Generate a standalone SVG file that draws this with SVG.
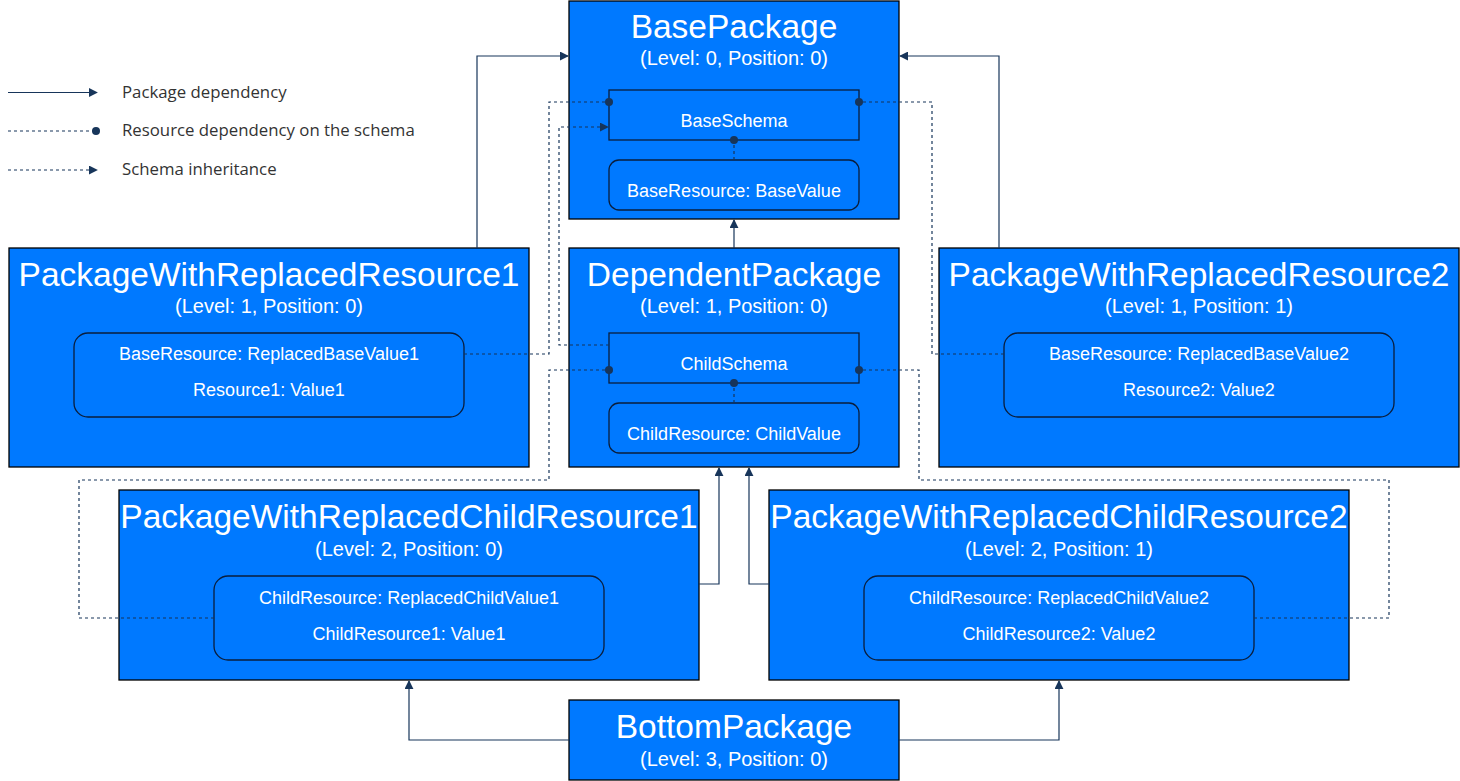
<svg xmlns="http://www.w3.org/2000/svg" width="1460" height="781" viewBox="0 0 1460 781">
<style>
.pkg{fill:#0079FF;stroke:#000;stroke-width:1.3}
.box{fill:none;stroke:#0A1E3C;stroke-width:1.3}
.t{font-family:"Liberation Sans",Arial,sans-serif;fill:#fff;text-anchor:middle}
.title{font-size:33.5px}
.sub{font-size:20px}
.in{font-size:18px}
.leg{font-family:"Open Sans","Noto Sans",sans-serif;font-size:16.8px;fill:#333}
.dep{fill:none;stroke:#17355A;stroke-width:1.2}
.dash{fill:none;stroke:#17355A;stroke-width:1.2;stroke-dasharray:3 3}
</style>
<defs>
<marker id="arr" viewBox="0 0 10 10" refX="9" refY="5" markerWidth="9" markerHeight="9" markerUnits="userSpaceOnUse" orient="auto">
<path d="M0,0 L10,5 L0,10 Z" fill="#17355A"/>
</marker>
<marker id="dot" viewBox="0 0 10 10" refX="5" refY="5" markerWidth="8" markerHeight="8" markerUnits="userSpaceOnUse">
<circle cx="5" cy="5" r="5" fill="#17355A"/>
</marker>
</defs>
<rect width="1460" height="781" fill="#fff"/>

<g id="legend">
<line class="dep" x1="8" y1="92.5" x2="97" y2="92.5" marker-end="url(#arr)"/>
<text class="leg" x="122" y="98">Package dependency</text>
<line class="dash" x1="8" y1="131" x2="96" y2="131" marker-end="url(#dot)"/>
<text class="leg" x="122" y="136">Resource dependency on the schema</text>
<line class="dash" x1="8" y1="170" x2="97" y2="170" marker-end="url(#arr)"/>
<text class="leg" x="122" y="175">Schema inheritance</text>
</g>

<g id="BasePackage">
<rect class="pkg" x="569" y="1" width="330" height="218"/>
<text class="t title" x="734" y="38">BasePackage</text>
<text class="t sub" x="734" y="65">(Level: 0, Position: 0)</text>
<rect class="box" x="609" y="90" width="250" height="50"/>
<text class="t in" x="734" y="127">BaseSchema</text>
<rect class="box" x="609" y="160" width="250" height="50" rx="10"/>
<text class="t in" x="734" y="197">BaseResource: BaseValue</text>
</g>

<g id="DependentPackage">
<rect class="pkg" x="569" y="248" width="330" height="219"/>
<text class="t title" x="734" y="286">DependentPackage</text>
<text class="t sub" x="734" y="313">(Level: 1, Position: 0)</text>
<rect class="box" x="609" y="333" width="250" height="50"/>
<text class="t in" x="734" y="370">ChildSchema</text>
<rect class="box" x="609" y="403" width="250" height="50" rx="10"/>
<text class="t in" x="734" y="440">ChildResource: ChildValue</text>
</g>

<g id="PackageWithReplacedResource1">
<rect class="pkg" x="9" y="248" width="520" height="219"/>
<text class="t title" x="269" y="286">PackageWithReplacedResource1</text>
<text class="t sub" x="269" y="313">(Level: 1, Position: 0)</text>
<rect class="box" x="74" y="333" width="390" height="84" rx="14"/>
<text class="t in" x="269" y="360">BaseResource: ReplacedBaseValue1</text>
<text class="t in" x="269" y="396">Resource1: Value1</text>
</g>

<g id="PackageWithReplacedResource2">
<rect class="pkg" x="939" y="248" width="520" height="219"/>
<text class="t title" x="1199" y="286">PackageWithReplacedResource2</text>
<text class="t sub" x="1199" y="313">(Level: 1, Position: 1)</text>
<rect class="box" x="1004" y="333" width="390" height="84" rx="14"/>
<text class="t in" x="1199" y="360">BaseResource: ReplacedBaseValue2</text>
<text class="t in" x="1199" y="396">Resource2: Value2</text>
</g>

<g id="PackageWithReplacedChildResource1">
<rect class="pkg" x="119" y="490" width="580" height="190"/>
<text class="t title" x="409" y="528">PackageWithReplacedChildResource1</text>
<text class="t sub" x="409" y="556">(Level: 2, Position: 0)</text>
<rect class="box" x="214" y="576" width="390" height="84" rx="14"/>
<text class="t in" x="409" y="604">ChildResource: ReplacedChildValue1</text>
<text class="t in" x="409" y="640">ChildResource1: Value1</text>
</g>

<g id="PackageWithReplacedChildResource2">
<rect class="pkg" x="769" y="490" width="580" height="190"/>
<text class="t title" x="1059" y="528">PackageWithReplacedChildResource2</text>
<text class="t sub" x="1059" y="556">(Level: 2, Position: 1)</text>
<rect class="box" x="864" y="576" width="390" height="84" rx="14"/>
<text class="t in" x="1059" y="604">ChildResource: ReplacedChildValue2</text>
<text class="t in" x="1059" y="640">ChildResource2: Value2</text>
</g>

<g id="BottomPackage">
<rect class="pkg" x="569" y="700" width="330" height="80"/>
<text class="t title" x="734" y="738">BottomPackage</text>
<text class="t sub" x="734" y="766">(Level: 3, Position: 0)</text>
</g>

<g id="connectors">
<polyline class="dep" points="477,248 477,56 568,56" marker-end="url(#arr)"/>
<polyline class="dep" points="999,248 999,56 900,56" marker-end="url(#arr)"/>
<polyline class="dep" points="734,248 734,220" marker-end="url(#arr)"/>
<polyline class="dep" points="699,584 719,584 719,468" marker-end="url(#arr)"/>
<polyline class="dep" points="769,584 749,584 749,468" marker-end="url(#arr)"/>
<polyline class="dep" points="569,740 409,740 409,681" marker-end="url(#arr)"/>
<polyline class="dep" points="899,740 1059,740 1059,681" marker-end="url(#arr)"/>

<polyline class="dash" points="464,354 549,354 549,102 609,102" marker-end="url(#dot)"/>
<polyline class="dash" points="609,345 559,345 559,127 608,127" marker-end="url(#arr)"/>
<polyline class="dash" points="1004,354 932,354 932,102 859,102" marker-end="url(#dot)"/>
<polyline class="dash" points="734,160 734,140" marker-end="url(#dot)"/>
<polyline class="dash" points="734,403 734,383" marker-end="url(#dot)"/>
<polyline class="dash" points="214,618 79,618 79,480 549,480 549,370 609,370" marker-end="url(#dot)"/>
<polyline class="dash" points="1254,618 1389,618 1389,480 919,480 919,370 859,370" marker-end="url(#dot)"/>
</g>
</svg>
